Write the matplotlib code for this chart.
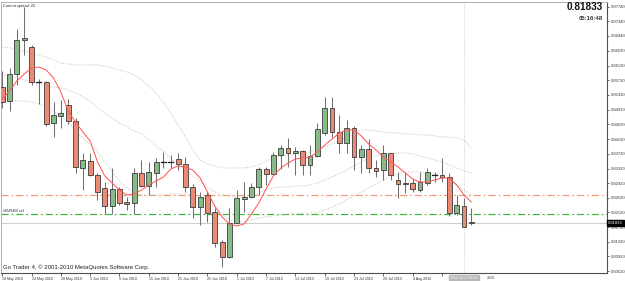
import matplotlib
matplotlib.use("Agg")
import matplotlib.pyplot as plt
from matplotlib.patches import Rectangle
import matplotlib.transforms as mtransforms

# ---------------- data (EUR/GBP daily, 18 May 2010 - 16 Aug 2010) ----------------
opens = [0.85547, 0.85173, 0.85902, 0.86831, 0.86639, 0.85684, 0.85684, 0.84556, 0.84763, 0.85047,
         0.84619, 0.83343, 0.83534, 0.83144, 0.82781, 0.82305, 0.82753, 0.82415, 0.82371, 0.83190,
         0.82843, 0.83207, 0.83507, 0.83507, 0.83581, 0.83444, 0.82824, 0.82262, 0.82598, 0.82141,
         0.81322, 0.80896, 0.81841, 0.82480, 0.82535, 0.82808, 0.83299, 0.83163, 0.83690, 0.83873,
         0.83753, 0.83807, 0.83417, 0.83663, 0.84299, 0.84965, 0.84326, 0.84026, 0.84419, 0.83627,
         0.83846, 0.83327, 0.83280, 0.83736, 0.83007, 0.82917, 0.82917, 0.82734, 0.82933, 0.83136,
         0.83144, 0.83097, 0.82098, 0.82297, 0.81868]
highs = [0.85984, 0.86066, 0.87123, 0.87724, 0.86694, 0.85766, 0.85711, 0.85137, 0.85192, 0.85211,
         0.84700, 0.83753, 0.83745, 0.83198, 0.82961, 0.83327, 0.82824, 0.82535, 0.83327, 0.83553,
         0.83507, 0.83600, 0.83780, 0.83690, 0.83736, 0.83644, 0.82898, 0.82688, 0.82680, 0.82234,
         0.81369, 0.82234, 0.82734, 0.82961, 0.82933, 0.83370, 0.83370, 0.83780, 0.83963, 0.84146,
         0.83917, 0.83827, 0.83963, 0.84572, 0.85282, 0.85282, 0.84782, 0.84646, 0.84482, 0.83963,
         0.84119, 0.83553, 0.83963, 0.83753, 0.83234, 0.83198, 0.83026, 0.83234, 0.83327, 0.83234,
         0.83600, 0.83190, 0.82598, 0.82507, 0.82234]
lows = [0.84974, 0.84900, 0.85602, 0.86421, 0.85602, 0.85083, 0.84482, 0.84182, 0.84427, 0.84537,
        0.83198, 0.82734, 0.83116, 0.82461, 0.82079, 0.82079, 0.82324, 0.82188, 0.82079, 0.82824,
        0.82598, 0.82824, 0.83327, 0.83327, 0.83280, 0.82688, 0.81969, 0.81778, 0.81860, 0.81169,
        0.80639, 0.80877, 0.81825, 0.82141, 0.82507, 0.82598, 0.82871, 0.83144, 0.83299, 0.83370,
        0.83144, 0.83144, 0.83144, 0.83627, 0.84236, 0.84190, 0.83736, 0.83736, 0.83280, 0.83207,
        0.83198, 0.83097, 0.83007, 0.83007, 0.82507, 0.82652, 0.82688, 0.82688, 0.82871, 0.82961,
        0.82961, 0.82024, 0.82051, 0.81715, 0.81778]
closes = [0.85137, 0.85902, 0.86831, 0.86885, 0.85675, 0.85684, 0.84545, 0.84774, 0.84829, 0.84619,
          0.83370, 0.83553, 0.83144, 0.82688, 0.82305, 0.82753, 0.82387, 0.82352, 0.83190, 0.82843,
          0.83218, 0.83507, 0.83507, 0.83505, 0.83444, 0.82824, 0.82278, 0.82551, 0.82098, 0.81295,
          0.80913, 0.81841, 0.82507, 0.82535, 0.82824, 0.83299, 0.83163, 0.83690, 0.83873, 0.83736,
          0.83807, 0.83417, 0.83663, 0.84392, 0.84965, 0.84326, 0.84026, 0.84419, 0.83627, 0.83846,
          0.83327, 0.83261, 0.83736, 0.83144, 0.82890, 0.82890, 0.82753, 0.82961, 0.83234, 0.83136,
          0.83097, 0.82098, 0.82324, 0.81715, 0.81833]

ma_red = [0.85219, 0.85438, 0.85711, 0.85902, 0.86066, 0.86093, 0.86011, 0.85793, 0.85411, 0.84892,
          0.84591, 0.84318, 0.84072, 0.83499, 0.83116, 0.82925, 0.82734, 0.82598, 0.82625, 0.82734,
          0.82871, 0.82980, 0.83089, 0.83308, 0.83390, 0.83362, 0.83280, 0.83062, 0.82680, 0.82297,
          0.81997, 0.81806, 0.81751, 0.81806, 0.82079, 0.82379, 0.82761, 0.83116, 0.83335, 0.83471,
          0.83581, 0.83608, 0.83635, 0.83772, 0.83963, 0.84127, 0.84291, 0.84373, 0.84373, 0.84209,
          0.83990, 0.83827, 0.83635, 0.83499, 0.83362, 0.83198, 0.83035, 0.82953, 0.82953, 0.83007,
          0.83062, 0.83062, 0.82871, 0.82598, 0.82406]

band_upper = [0.86639, 0.86612, 0.86558, 0.86530, 0.86476, 0.86421, 0.86366, 0.86284, 0.86203, 0.86175,
              0.86148, 0.86148, 0.86148, 0.86148, 0.86121, 0.86066, 0.86011, 0.85957, 0.85875, 0.85738,
              0.85574, 0.85383, 0.85137, 0.84837, 0.84509, 0.84182, 0.83827, 0.83553, 0.83444, 0.83390,
              0.83335, 0.83335, 0.83335, 0.83335, 0.83362, 0.83417, 0.83526, 0.83608, 0.83663, 0.83690,
              0.83717, 0.83745, 0.83772, 0.83827, 0.83908, 0.83990, 0.84072, 0.84182, 0.84291, 0.84373,
              0.84373, 0.84345, 0.84318, 0.84291, 0.84291, 0.84264, 0.84264, 0.84236, 0.84236, 0.84209,
              0.84182, 0.84182, 0.84154, 0.84100, 0.83881]
band_mid = [0.85875, 0.85847, 0.85793, 0.85738, 0.85684, 0.85629, 0.85574, 0.85547, 0.85520, 0.85465,
            0.85383, 0.85274, 0.85165, 0.84974, 0.84837, 0.84700, 0.84564, 0.84455, 0.84345, 0.84264,
            0.84100, 0.83936, 0.83799, 0.83608, 0.83417, 0.83280, 0.83116, 0.82980, 0.82816, 0.82680,
            0.82598, 0.82570, 0.82543, 0.82543, 0.82570, 0.82652, 0.82734, 0.82789, 0.82816, 0.82816,
            0.82843, 0.82843, 0.82871, 0.82925, 0.83007, 0.83089, 0.83171, 0.83280, 0.83390, 0.83499,
            0.83608, 0.83663, 0.83690, 0.83717, 0.83745, 0.83745, 0.83717, 0.83663, 0.83608, 0.83553,
            0.83499, 0.83417, 0.83335, 0.83253, 0.83198]
band_lower = [0.85192, 0.85192, 0.85165, 0.85165, 0.85137, 0.85083, 0.85001, 0.84892, 0.84755, 0.84591,
              0.84373, 0.84154, 0.83963, 0.83772, 0.83499, 0.83226, 0.82980, 0.82789, 0.82652, 0.82598,
              0.82598, 0.82598, 0.82598, 0.82625, 0.82625, 0.82625, 0.82598, 0.82570, 0.82461, 0.82270,
              0.82051, 0.81915, 0.81860, 0.81860, 0.81915, 0.81969, 0.81997, 0.82024, 0.82051, 0.82079,
              0.82079, 0.82106, 0.82106, 0.82133, 0.82188, 0.82270, 0.82352, 0.82461, 0.82570, 0.82680,
              0.82789, 0.82898, 0.83007, 0.83089, 0.83171, 0.83226, 0.83226, 0.83226, 0.83198, 0.83171,
              0.83116, 0.83007, 0.82871, 0.82734, 0.82598]

date_labels = ["18 May 2010", "24 May 2010", "28 May 2010", "3 Jun 2010", "9 Jun 2010",
               "15 Jun 2010", "21 Jun 2010", "25 Jun 2010", "1 Jul 2010", "7 Jul 2010",
               "13 Jul 2010", "19 Jul 2010", "23 Jul 2010", "29 Jul 2010", "4 Aug 2010"]
date_label_bars = [0, 4, 8, 12, 16, 20, 24, 28, 32, 36, 40, 44, 48, 52, 56]
hidden_label_tail = "2010"   # visible tail of the "10 Aug 2010" label behind the cursor box

price_ticks = [0.87740, 0.87340, 0.86940, 0.86530, 0.86130, 0.85730, 0.85330, 0.84930, 0.84530,
               0.84120, 0.83720, 0.83320, 0.82920, 0.82520, 0.82120, 0.81720, 0.81320, 0.80920,
               0.80520]

current_price = 0.81833
order_open = 0.82598
order_sl = 0.82071
cursor_bar = 63
cursor_label = "2010.08.13 00:00"

# ---------------- figure ----------------
W, H = 625, 281
fig = plt.figure(figsize=(W / 100, H / 100), dpi=100)
fig.patch.set_facecolor("white")
ax = fig.add_axes([1 / W, 8 / H, 606 / W, 271 / H])
ax.set_facecolor("white")
ax.set_xlim(-0.164, 82.51)
ax.set_ylim(0.80467, 0.87868)

bull = "#88bb88"
bear = "#ec8a74"
edge = "#3c3c3c"
wick = "#707070"
bw = 0.66

x = list(range(len(opens)))
for i in x:
    o, h, l, c = opens[i], highs[i], lows[i], closes[i]
    ax.plot([i, i], [l, h], color=wick, lw=0.75, zorder=3, solid_capstyle="butt")
    if abs(c - o) < 0.00012:
        ax.plot([i - bw / 2, i + bw / 2], [o, o], color="#202020", lw=0.9, zorder=4)
    else:
        col = bull if c > o else bear
        ax.add_patch(Rectangle((i - bw / 2, min(o, c)), bw, abs(c - o),
                               facecolor=col, edgecolor=edge, lw=0.6, zorder=4))

dot_col = "#c4bcb4"
for band in (band_upper, band_mid, band_lower):
    ax.plot(x, band, color=dot_col, lw=0.7, ls=(0, (1, 1.6)), zorder=2)
ax.plot(x, ma_red, color="#ff5a5a", lw=0.75, zorder=5)

ax.axhline(order_open, color="#f59a6a", lw=0.85, ls=(0, (6, 2.5, 1.5, 2.5)), zorder=1)
ax.axhline(order_sl, color="#3cb83c", lw=0.85, ls=(0, (6, 2.5, 1.5, 2.5)), zorder=1)
ax.axhline(current_price, color="#cfcfcf", lw=0.8, zorder=1)
ax.axvline(cursor_bar, color="#c8c8c8", lw=0.7, ls=(0, (1, 1.6)), zorder=1)

# spines
for s in ("left", "top"):
    ax.spines[s].set_color("#b0b0b0")
    ax.spines[s].set_linewidth(0.7)
for s in ("right", "bottom"):
    ax.spines[s].set_color("#505050")
    ax.spines[s].set_linewidth(0.8)

fam = "Liberation Sans"
ax.yaxis.tick_right()
ax.set_yticks(price_ticks)
ax.set_yticklabels([f"{p:.5f}" for p in price_ticks])
ax.tick_params(axis="y", which="both", length=1.6, width=0.6, colors="#505050", pad=1.0,
               labelsize=3.0, labelcolor="#333333")
ax.set_xticks(date_label_bars + [60])
ax.set_xticklabels(date_labels + [""])
for lab in ax.get_xticklabels():
    lab.set_horizontalalignment("left")
ax.tick_params(axis="x", length=2.0, width=0.6, colors="#505050", pad=0.8,
               labelsize=2.6, labelcolor="#333333")
for lab in ax.get_xticklabels() + ax.get_yticklabels():
    lab.set_fontfamily(fam)

# texts
ax.text(0.004, 0.994, "Current spread: 22", transform=ax.transAxes, ha="left", va="top",
        fontsize=2.8, color="#222222", family=fam)
ax.text(0.004, 0.012, "Go Trader 4, \u00a9 2001-2010 MetaQuotes Software Corp.", transform=ax.transAxes,
        ha="left", va="bottom", fontsize=4.35, color="#222222", family=fam)
ax.text(0.004, order_sl + 0.0003, "#8548460 sell", ha="left", va="bottom", fontsize=2.4,
        color="#333333", family=fam, transform=mtransforms.blended_transform_factory(ax.transAxes, ax.transData))
fig.text(603 / W, 1 - 2.5 / H, "0.81833", ha="right", va="top", fontsize=7.2, fontweight="bold",
         color="#111111", family=fam)
fig.text(603 / W, 1 - 16 / H, "05:16:48", ha="right", va="top", fontsize=4.3, fontweight="bold",
         color="#333333", family=fam)

# current price box on axis
trans = mtransforms.blended_transform_factory(ax.transAxes, ax.transData)
ax.text(1.002, current_price, "0.81833", transform=trans, ha="left", va="center", fontsize=3.0,
        color="white", family=fam, zorder=10, clip_on=False,
        bbox=dict(boxstyle="square,pad=0.25", facecolor="black", edgecolor="black"))

# cursor date label (covers the "10 Aug 2010" label except its tail)
transx = mtransforms.blended_transform_factory(ax.transData, ax.transAxes)
ax.text(cursor_bar, -0.012, cursor_label, transform=transx, ha="center", va="top", fontsize=2.6,
        color="#f4f4f4", family=fam, zorder=10, clip_on=False,
        bbox=dict(boxstyle="square,pad=0.3", facecolor="#b8b8b8", edgecolor="#b8b8b8"))
ax.text(66.15, -0.012, hidden_label_tail, transform=transx, ha="left", va="top", fontsize=2.6,
        color="#333333", family=fam, clip_on=False)

fig.savefig("out.png", dpi=100, facecolor="white")
